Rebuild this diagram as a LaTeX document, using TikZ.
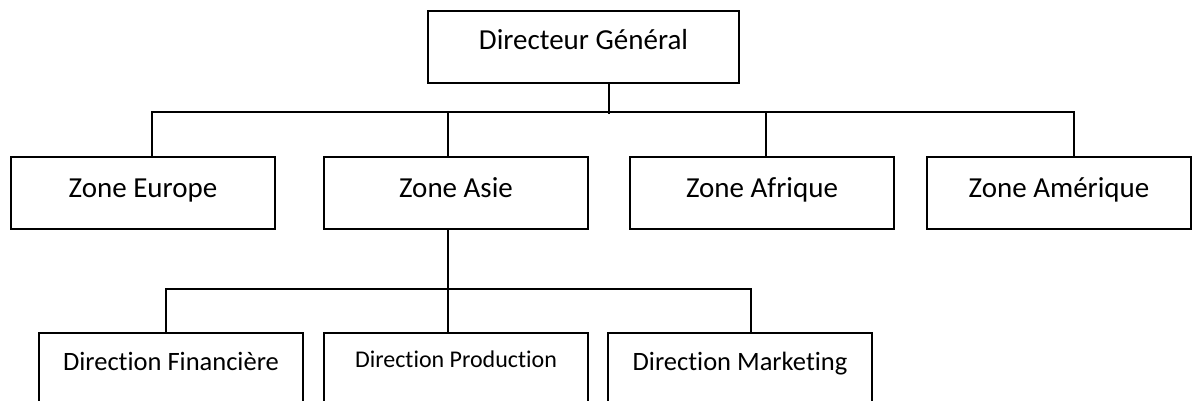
\documentclass[tikz,border=0pt]{standalone}
\usepackage{fontspec}
\setmainfont[Ligatures=NoCommon]{Carlito}
\begin{document}
\begin{tikzpicture}[x=1pt,y=-1pt,
  line width=2pt,
  box/.style={draw, line width=2pt, inner sep=0pt, minimum width=264pt,
    minimum height=72pt, text height=20pt},
  toptext/.style={text depth=14pt, font=\fontsize{29}{34}\selectfont},
  zonetext/.style={text depth=12pt, font=\fontsize{29}{34}\selectfont},
  dirtext/.style={text depth=16.6pt, font=\fontsize{26.5}{31}\selectfont},
  prodtext/.style={text depth=23.4pt, font=\fontsize{24}{29}\selectfont}]
\useasboundingbox (0,0) rectangle (1192,401);
\clip (0,0) rectangle (1192,401);

% top level
\node[box, toptext, minimum width=311pt] (dg) at (583.5,47) {Directeur Général};

% zones
\node[box, zonetext] (eu) at (143,193)  {Zone Europe};
\node[box, zonetext] (as) at (456,193)  {Zone Asie};
\node[box, zonetext] (af) at (762,193)  {Zone Afrique};
\node[box, zonetext] (am) at (1059,193) {Zone Amérique};

% directions under Zone Asie
\node[box, dirtext]  (fin)  at (171,369) {Direction Financière};
\node[box, prodtext] (prod) at (456,369) {Direction Production};
\node[box, dirtext]  (mkt)  at (740,369) {Direction Marketing};

% connectors: director to zones
\draw ([xshift=25.5]dg.south) -- ++(0,30);
\draw ([xshift=9]eu.north) -- ++(0,-44) -| ([xshift=15]am.north);
\draw ([xshift=-8]as.north) -- ++(0,-44);
\draw ([xshift=4]af.north) -- ++(0,-44);

% connectors: Zone Asie to directions
\draw ([xshift=-8]as.south) -- ([xshift=-8]as.south |- prod.north);
\draw ([xshift=-5]fin.north) -- ++(0,-43) -| ([xshift=11]mkt.north);
\end{tikzpicture}
\end{document}
